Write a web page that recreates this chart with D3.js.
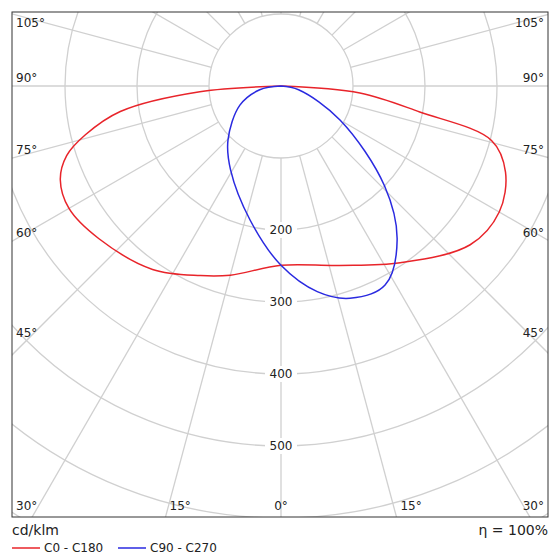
<!DOCTYPE html><html><head><script src="https://cdn.jsdelivr.net/npm/d3@7"></script>
<style>body{margin:0;background:#fff}svg{font-family:Tahoma,"DejaVu Sans",sans-serif}</style></head><body>
<svg id="c" width="560" height="557"></svg>
<script>
const circleValues=[100,200,300,400,500,600,700,800];
const circleLabels=[200,300,400,500];
const radialAngles=d3.range(-180,180,15);
const sideLabels=[105,90,75,60,45];
const bottomLabels=[-30,-15,0,15,30];
const c180Ang=[0,15,23,35,50,60,67,72,76,81,86,90];
const c180Val=[249,272,286,311,330,340,333,313,280,226,113,0];
const c0Ang=[0,18,34,50,60,69,75.5,79.4,85,90];
const c0Val=[249,262,296,343,350,334,302,196,110,0];
const c90Ang=[0,10,18,27.6,37,46,60,78,90];
const c90Val=[249,290,310,312,268,200,95,25,0];
const c270Ang=[0,13,31,44.5,65,80,90];
const c270Val=[249,191,136,105,63,30,0];
const legend=["C0 - C180","C90 - C270"];
const colors=["#e8242a","#2a2ae0"];

const svg=d3.select("#c");
const L=12,T=12,R=548,B=517,cx=281,cy=86;
const r=d3.scaleLinear().domain([0,100]).range([0,72]);
svg.append("clipPath").attr("id","cl").append("rect").attr("x",L).attr("y",T).attr("width",R-L).attr("height",B-T);
const g=svg.append("g").attr("clip-path","url(#cl)");
const gg=g.append("g").attr("transform",`translate(${cx},${cy})`);
gg.selectAll("circle").data(circleValues).join("circle").attr("r",d=>r(d)).attr("fill","none").attr("stroke","#d0d0d0").attr("stroke-width",1.3);
gg.selectAll("line").data(radialAngles).join("line")
 .attr("x1",d=>r(100)*Math.sin(d*Math.PI/180)).attr("y1",d=>r(100)*Math.cos(d*Math.PI/180))
 .attr("x2",d=>r(1200)*Math.sin(d*Math.PI/180)).attr("y2",d=>r(1200)*Math.cos(d*Math.PI/180))
 .attr("stroke","#d0d0d0").attr("stroke-width",1.3);
const lbl=gg.selectAll("g.cl").data(circleLabels).join("g").attr("transform",d=>`translate(0,${r(d)})`);
lbl.append("rect").attr("x",-16).attr("y",-8).attr("width",32).attr("height",16).attr("fill","#fff");
lbl.append("text").attr("text-anchor","middle").attr("dy","0.35em").attr("font-size",12).attr("fill","#222").text(d=>d);
function pts(ang,val,sign){return ang.map((a,i)=>[sign>0?Math.PI-a*Math.PI/180:Math.PI+a*Math.PI/180,r(val[i])]);}
const line=d3.lineRadial().angle(d=>d[0]).radius(d=>d[1]).curve(d3.curveCatmullRom);
const red=pts(c180Ang,c180Val,-1).reverse().concat(pts(c0Ang,c0Val,1).slice(1));
const blue=pts(c270Ang,c270Val,-1).reverse().concat(pts(c90Ang,c90Val,1).slice(1));
gg.append("path").attr("d",line(red)).attr("fill","none").attr("stroke",colors[0]).attr("stroke-width",1.5);
gg.append("path").attr("d",line(blue)).attr("fill","none").attr("stroke",colors[1]).attr("stroke-width",1.5);
svg.append("rect").attr("x",L).attr("y",T).attr("width",R-L).attr("height",B-T).attr("fill","none").attr("stroke","#333");
sideLabels.forEach(a=>{
 const dy=(cx-L)/Math.tan(a*Math.PI/180);
 let y=cy+dy+(a>90?13:a===45?-18:-4);
 svg.append("text").attr("x",L+4).attr("y",y).attr("font-size",12).attr("fill","#222").text(a+"°");
 svg.append("text").attr("x",R-4).attr("y",y).attr("text-anchor","end").attr("font-size",12).attr("fill","#222").text(a+"°");
});
bottomLabels.forEach(a=>{
 let x=cx+(B-cy)*Math.tan(a*Math.PI/180);
 const t=svg.append("text").attr("y",B-7).attr("font-size",12).attr("fill","#222").text(Math.abs(a)+"°");
 if(a===0)t.attr("x",x).attr("text-anchor","middle");
 else if(a===-30)t.attr("x",L+4);
 else if(a===30)t.attr("x",R-4).attr("text-anchor","end");
 else t.attr("x",x+4);
});
svg.append("text").attr("x",12).attr("y",535).attr("font-size",14).attr("fill","#222").text("cd/klm");
svg.append("text").attr("x",548).attr("y",535).attr("text-anchor","end").attr("font-size",14).attr("fill","#222").text("η = 100%");
legend.forEach((t,i)=>{
 const x0=i?118:12;
 svg.append("line").attr("x1",x0).attr("x2",x0+28).attr("y1",548).attr("y2",548).attr("stroke",colors[i]).attr("stroke-width",1.5);
 svg.append("text").attr("x",x0+32).attr("y",552).attr("font-size",12).attr("fill","#222").text(t);
});
</script></body></html>
